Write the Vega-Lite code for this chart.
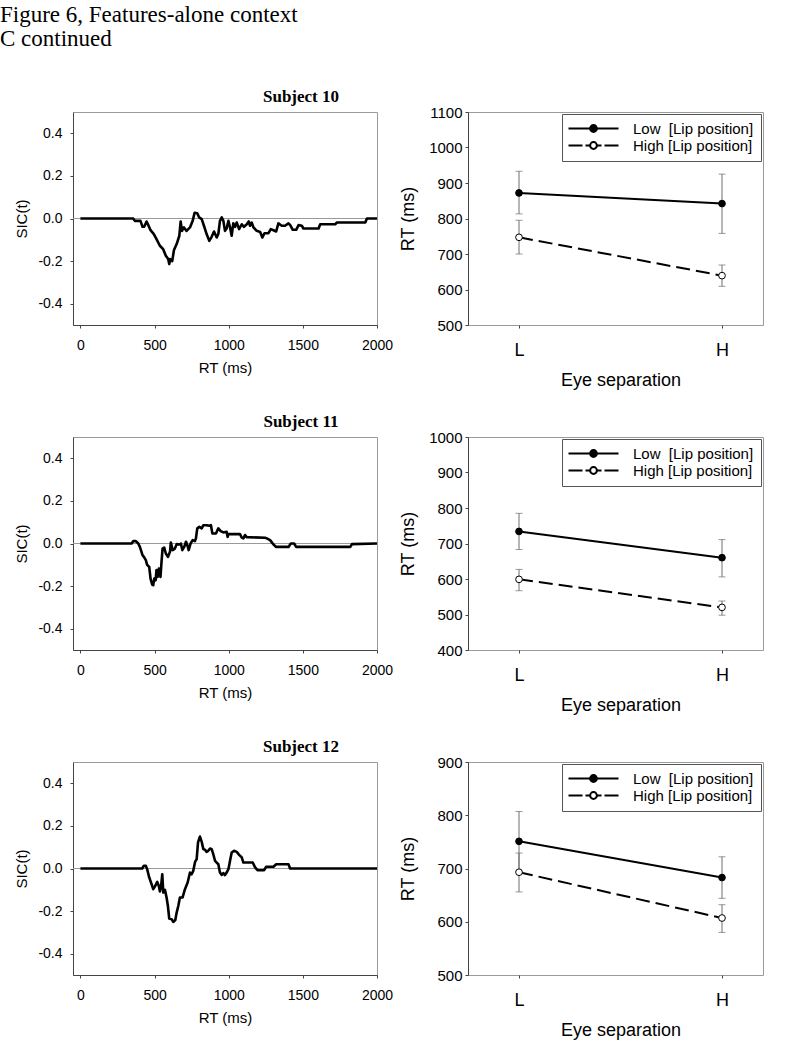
{
  "$schema": "https://vega.github.io/schema/vega-lite/v6.json",
  "padding": {"left": 0, "top": 3, "right": 0, "bottom": 0},
  "title": {"text": ["Figure 6, Features-alone context", "C continued"], "anchor": "start", "frame": "group", "font": "Liberation Serif", "fontSize": 23, "fontWeight": "normal", "lineHeight": 24, "dx": -73, "offset": 37, "color": "black"},
  "datasets": {
    "sic": [
      {"s":10,"t":0,"v":0},{"s":10,"t":356,"v":0},{"s":10,"t":367,"v":-0.011},{"s":10,"t":405,"v":-0.011},{"s":10,"t":419,"v":-0.039},{"s":10,"t":430,"v":-0.039},{"s":10,"t":446,"v":-0.014},{"s":10,"t":457,"v":-0.03},{"s":10,"t":473,"v":-0.055},{"s":10,"t":495,"v":-0.073},{"s":10,"t":513,"v":-0.097},{"s":10,"t":536,"v":-0.128},{"s":10,"t":558,"v":-0.144},{"s":10,"t":576,"v":-0.175},{"s":10,"t":592,"v":-0.19},{"s":10,"t":599,"v":-0.214},{"s":10,"t":605,"v":-0.19},{"s":10,"t":610,"v":-0.198},{"s":10,"t":619,"v":-0.2},{"s":10,"t":631,"v":-0.148},{"s":10,"t":649,"v":-0.12},{"s":10,"t":667,"v":-0.081},{"s":10,"t":676,"v":-0.014},{"s":10,"t":685,"v":-0.058},{"s":10,"t":698,"v":-0.042},{"s":10,"t":716,"v":-0.058},{"s":10,"t":739,"v":-0.042},{"s":10,"t":757,"v":-0.011},{"s":10,"t":770,"v":0.027},{"s":10,"t":788,"v":0.025},{"s":10,"t":801,"v":0.005},{"s":10,"t":818,"v":-0.003},{"s":10,"t":833,"v":-0.034},{"s":10,"t":851,"v":-0.073},{"s":10,"t":869,"v":-0.105},{"s":10,"t":885,"v":-0.086},{"s":10,"t":901,"v":-0.061},{"s":10,"t":919,"v":-0.089},{"s":10,"t":930,"v":-0.073},{"s":10,"t":941,"v":-0.011},{"s":10,"t":953,"v":0.005},{"s":10,"t":964,"v":-0.011},{"s":10,"t":975,"v":-0.058},{"s":10,"t":986,"v":-0.047},{"s":10,"t":998,"v":-0.011},{"s":10,"t":1009,"v":-0.042},{"s":10,"t":1020,"v":-0.081},{"s":10,"t":1031,"v":-0.023},{"s":10,"t":1043,"v":-0.039},{"s":10,"t":1054,"v":-0.019},{"s":10,"t":1070,"v":-0.05},{"s":10,"t":1088,"v":-0.027},{"s":10,"t":1103,"v":-0.039},{"s":10,"t":1122,"v":-0.027},{"s":10,"t":1135,"v":-0.014},{"s":10,"t":1144,"v":-0.034},{"s":10,"t":1155,"v":-0.019},{"s":10,"t":1167,"v":-0.042},{"s":10,"t":1189,"v":-0.058},{"s":10,"t":1212,"v":-0.063},{"s":10,"t":1227,"v":-0.089},{"s":10,"t":1241,"v":-0.069},{"s":10,"t":1268,"v":-0.069},{"s":10,"t":1284,"v":-0.05},{"s":10,"t":1302,"v":-0.055},{"s":10,"t":1320,"v":-0.061},{"s":10,"t":1335,"v":-0.023},{"s":10,"t":1358,"v":-0.034},{"s":10,"t":1380,"v":-0.034},{"s":10,"t":1403,"v":-0.023},{"s":10,"t":1414,"v":-0.03},{"s":10,"t":1432,"v":-0.053},{"s":10,"t":1455,"v":-0.053},{"s":10,"t":1471,"v":-0.031},{"s":10,"t":1493,"v":-0.034},{"s":10,"t":1504,"v":-0.047},{"s":10,"t":1606,"v":-0.047},{"s":10,"t":1617,"v":-0.027},{"s":10,"t":1718,"v":-0.027},{"s":10,"t":1730,"v":-0.019},{"s":10,"t":1921,"v":-0.019},{"s":10,"t":1932,"v":0},{"s":10,"t":2000,"v":0},
      {"s":11,"t":0,"v":0},{"s":11,"t":345,"v":0},{"s":11,"t":356,"v":0.011},{"s":11,"t":374,"v":0.011},{"s":11,"t":390,"v":0},{"s":11,"t":401,"v":-0.016},{"s":11,"t":419,"v":-0.055},{"s":11,"t":428,"v":-0.063},{"s":11,"t":441,"v":-0.078},{"s":11,"t":450,"v":-0.1},{"s":11,"t":464,"v":-0.11},{"s":11,"t":473,"v":-0.165},{"s":11,"t":484,"v":-0.193},{"s":11,"t":491,"v":-0.196},{"s":11,"t":498,"v":-0.165},{"s":11,"t":507,"v":-0.173},{"s":11,"t":513,"v":-0.125},{"s":11,"t":520,"v":-0.157},{"s":11,"t":529,"v":-0.118},{"s":11,"t":540,"v":-0.157},{"s":11,"t":547,"v":-0.086},{"s":11,"t":554,"v":-0.024},{"s":11,"t":565,"v":-0.019},{"s":11,"t":576,"v":-0.047},{"s":11,"t":590,"v":-0.063},{"s":11,"t":604,"v":-0.039},{"s":11,"t":610,"v":0.005},{"s":11,"t":622,"v":-0.031},{"s":11,"t":637,"v":-0.024},{"s":11,"t":649,"v":-0.003},{"s":11,"t":667,"v":-0.005},{"s":11,"t":678,"v":0},{"s":11,"t":687,"v":-0.031},{"s":11,"t":700,"v":-0.016},{"s":11,"t":712,"v":0.008},{"s":11,"t":721,"v":-0.008},{"s":11,"t":730,"v":-0.031},{"s":11,"t":743,"v":0},{"s":11,"t":757,"v":0.016},{"s":11,"t":772,"v":0.011},{"s":11,"t":779,"v":0.024},{"s":11,"t":788,"v":0.071},{"s":11,"t":802,"v":0.078},{"s":11,"t":818,"v":0.071},{"s":11,"t":829,"v":0.086},{"s":11,"t":851,"v":0.086},{"s":11,"t":869,"v":0.083},{"s":11,"t":880,"v":0.086},{"s":11,"t":890,"v":0.047},{"s":11,"t":914,"v":0.047},{"s":11,"t":930,"v":0.071},{"s":11,"t":946,"v":0.058},{"s":11,"t":964,"v":0.052},{"s":11,"t":986,"v":0.055},{"s":11,"t":993,"v":0.031},{"s":11,"t":998,"v":0.044},{"s":11,"t":1076,"v":0.044},{"s":11,"t":1088,"v":0.028},{"s":11,"t":1099,"v":0.024},{"s":11,"t":1110,"v":0.04},{"s":11,"t":1121,"v":0.03},{"s":11,"t":1245,"v":0.027},{"s":11,"t":1257,"v":0.024},{"s":11,"t":1279,"v":0.016},{"s":11,"t":1302,"v":-0.005},{"s":11,"t":1320,"v":-0.016},{"s":11,"t":1403,"v":-0.016},{"s":11,"t":1419,"v":0},{"s":11,"t":1441,"v":0},{"s":11,"t":1455,"v":-0.016},{"s":11,"t":1820,"v":-0.016},{"s":11,"t":1831,"v":-0.003},{"s":11,"t":2000,"v":0},
      {"s":12,"t":0,"v":0},{"s":12,"t":417,"v":0},{"s":12,"t":428,"v":0.013},{"s":12,"t":441,"v":0.013},{"s":12,"t":450,"v":-0.003},{"s":12,"t":464,"v":-0.042},{"s":12,"t":480,"v":-0.074},{"s":12,"t":491,"v":-0.097},{"s":12,"t":502,"v":-0.085},{"s":12,"t":518,"v":-0.063},{"s":12,"t":529,"v":-0.082},{"s":12,"t":536,"v":-0.108},{"s":12,"t":543,"v":-0.09},{"s":12,"t":552,"v":-0.027},{"s":12,"t":559,"v":-0.113},{"s":12,"t":570,"v":-0.1},{"s":12,"t":581,"v":-0.136},{"s":12,"t":590,"v":-0.176},{"s":12,"t":599,"v":-0.235},{"s":12,"t":615,"v":-0.238},{"s":12,"t":626,"v":-0.251},{"s":12,"t":640,"v":-0.242},{"s":12,"t":649,"v":-0.207},{"s":12,"t":660,"v":-0.176},{"s":12,"t":671,"v":-0.136},{"s":12,"t":689,"v":-0.136},{"s":12,"t":705,"v":-0.097},{"s":12,"t":723,"v":-0.066},{"s":12,"t":739,"v":-0.019},{"s":12,"t":750,"v":-0.027},{"s":12,"t":761,"v":-0.011},{"s":12,"t":773,"v":0.031},{"s":12,"t":784,"v":0.044},{"s":12,"t":793,"v":0.122},{"s":12,"t":806,"v":0.15},{"s":12,"t":818,"v":0.125},{"s":12,"t":829,"v":0.091},{"s":12,"t":840,"v":0.088},{"s":12,"t":851,"v":0.078},{"s":12,"t":862,"v":0.083},{"s":12,"t":874,"v":0.094},{"s":12,"t":885,"v":0.091},{"s":12,"t":896,"v":0.067},{"s":12,"t":908,"v":0.036},{"s":12,"t":919,"v":0.028},{"s":12,"t":930,"v":0.02},{"s":12,"t":941,"v":-0.019},{"s":12,"t":953,"v":-0.03},{"s":12,"t":964,"v":-0.022},{"s":12,"t":975,"v":-0.031},{"s":12,"t":986,"v":-0.019},{"s":12,"t":998,"v":-0.003},{"s":12,"t":1009,"v":0.036},{"s":12,"t":1020,"v":0.075},{"s":12,"t":1036,"v":0.083},{"s":12,"t":1054,"v":0.078},{"s":12,"t":1072,"v":0.063},{"s":12,"t":1088,"v":0.052},{"s":12,"t":1099,"v":0.028},{"s":12,"t":1162,"v":0.028},{"s":12,"t":1178,"v":0.005},{"s":12,"t":1194,"v":-0.008},{"s":12,"t":1239,"v":-0.008},{"s":12,"t":1252,"v":0.008},{"s":12,"t":1302,"v":0.008},{"s":12,"t":1320,"v":0.02},{"s":12,"t":1403,"v":0.02},{"s":12,"t":1414,"v":0},{"s":12,"t":2000,"v":0}
    ],
    "rt": [
      {"s":10,"eye":"L","lip":"Low","rt":872,"lo":813,"hi":933},
      {"s":10,"eye":"H","lip":"Low","rt":842,"lo":758,"hi":925},
      {"s":10,"eye":"L","lip":"High","rt":747,"lo":700,"hi":795},
      {"s":10,"eye":"H","lip":"High","rt":639,"lo":609,"hi":669},
      {"s":11,"eye":"L","lip":"Low","rt":734,"lo":683,"hi":785},
      {"s":11,"eye":"H","lip":"Low","rt":660,"lo":606,"hi":711},
      {"s":11,"eye":"L","lip":"High","rt":599,"lo":567,"hi":627},
      {"s":11,"eye":"H","lip":"High","rt":520,"lo":498,"hi":538},
      {"s":12,"eye":"L","lip":"Low","rt":751,"lo":695,"hi":807},
      {"s":12,"eye":"H","lip":"Low","rt":683,"lo":644,"hi":722},
      {"s":12,"eye":"L","lip":"High","rt":693,"lo":656,"hi":729},
      {"s":12,"eye":"H","lip":"High","rt":607,"lo":580,"hi":632}
    ]
  },
  "columns": 2,
  "bounds": "flush",
  "spacing": {"row": 112, "column": 91},
  "resolve": {"scale": {"x": "independent", "y": "independent", "fill": "independent", "shape": "independent"}, "legend": {"fill": "independent", "shape": "independent"}, "axis": {"x": "independent", "y": "independent"}},
  "concat": [
    {
      "width": 304, "height": 213,
      "title": {"text": "Subject 10", "font": "Liberation Serif", "fontSize": 17, "fontWeight": "bold", "anchor": "middle", "dx": 76, "offset": -7, "baseline": "alphabetic", "color": "black"},
      "data": {"name": "sic"},
      "transform": [{"filter": "datum.s == 10"}],
      "layer": [
        {"mark": {"type": "rule", "color": "#9a9a9a", "strokeWidth": 1},
         "encoding": {"y": {"datum": 0, "type": "quantitative", "scale": {"domain": [-0.5, 0.5], "nice": false}, "axis": {"title": "SIC(t)", "values": [-0.4, -0.2, 0, 0.2, 0.4], "labelExpr": "(datum.value < 0 ? '-' : '') + format(abs(datum.value), '.1f')", "labelFontSize": 14, "titleFontSize": 15, "tickSize": 3, "labelPadding": 8, "minExtent": 35, "maxExtent": 35, "titlePadding": 9}}}},
        {"mark": {"type": "line", "color": "black", "strokeWidth": 2.6, "strokeJoin": "round"},
         "encoding": {
           "x": {"field": "t", "type": "quantitative", "scale": {"domain": [-50, 2000], "nice": false, "zero": false}, "axis": {"title": "RT (ms)", "values": [0, 500, 1000, 1500, 2000], "format": "d", "labelFontSize": 14, "titleFontSize": 15, "tickSize": 3, "labelPadding": 10, "titlePadding": 8, "labelFlush": false, "labelOverlap": false}},
           "y": {"field": "v", "type": "quantitative", "scale": {"domain": [-0.5, 0.5], "nice": false}, "axis": {"title": "SIC(t)", "values": [-0.4, -0.2, 0, 0.2, 0.4], "labelExpr": "(datum.value < 0 ? '-' : '') + format(abs(datum.value), '.1f')", "labelFontSize": 14, "titleFontSize": 15, "tickSize": 3, "labelPadding": 8, "minExtent": 35, "maxExtent": 35, "titlePadding": 9}}}}
      ]
    },
    {
      "width": 295, "height": 213,
      "data": {"name": "rt"},
      "transform": [{"filter": "datum.s == 10"}],
      "encoding": {"x": {"field": "eye", "type": "ordinal", "scale": {"type": "point", "domain": ["L", "H"], "range": [51, 254], "padding": 0}, "axis": {"title": "Eye separation", "labelAngle": 0, "labelFontSize": 18, "titleFontSize": 18, "tickSize": 3, "labelPadding": 13, "titlePadding": 12, "domain": false}}},
      "layer": [
        {"mark": {"type": "errorbar", "ticks": {"size": 7}, "color": "#6e6e6e", "thickness": 1},
         "encoding": {"y": {"field": "lo", "type": "quantitative", "scale": {"domain": [500, 1100], "nice": false, "zero": false}, "axis": {"title": "RT (ms)", "format": "d", "values": [500, 600, 700, 800, 900, 1000, 1100], "labelOverlap": false, "labelFontSize": 15, "titleFontSize": 18, "tickSize": 3, "labelPadding": 3, "minExtent": 40, "maxExtent": 40, "titlePadding": 11}}, "y2": {"field": "hi"}}},
        {"transform": [{"filter": "datum.lip == 'Low'"}], "mark": {"type": "line", "color": "black", "strokeWidth": 2},
         "encoding": {"y": {"field": "rt", "type": "quantitative", "axis": {"title": "RT (ms)", "format": "d", "values": [500, 600, 700, 800, 900, 1000, 1100], "labelOverlap": false, "labelFontSize": 15, "titleFontSize": 18, "tickSize": 3, "labelPadding": 3, "minExtent": 40, "maxExtent": 40, "titlePadding": 11}}}},
        {"transform": [{"filter": "datum.lip == 'High'"}], "mark": {"type": "line", "color": "black", "strokeWidth": 2, "strokeDash": [14, 6]},
         "encoding": {"y": {"field": "rt", "type": "quantitative", "axis": {"title": "RT (ms)", "format": "d", "values": [500, 600, 700, 800, 900, 1000, 1100], "labelOverlap": false, "labelFontSize": 15, "titleFontSize": 18, "tickSize": 3, "labelPadding": 3, "minExtent": 40, "maxExtent": 40, "titlePadding": 11}}}},
        {"mark": {"type": "point", "filled": true, "stroke": "black", "strokeWidth": 1, "size": 45, "opacity": 1},
         "encoding": {"y": {"field": "rt", "type": "quantitative", "axis": {"title": "RT (ms)", "format": "d", "values": [500, 600, 700, 800, 900, 1000, 1100], "labelOverlap": false, "labelFontSize": 15, "titleFontSize": 18, "tickSize": 3, "labelPadding": 3, "minExtent": 40, "maxExtent": 40, "titlePadding": 11}},
           "fill": {"field": "lip", "type": "nominal", "title": null, "scale": {"domain": ["Low", "High"], "range": ["black", "white"]}, "legend": {"orient": "top-right", "offset": 2, "padding": 7, "fillColor": "white", "strokeColor": "#555", "labelFont": "Liberation Sans", "labelFontSize": 15, "labelColor": "black", "symbolSize": 144, "symbolStrokeColor": "black", "symbolStrokeWidth": 2, "symbolOffset": 17, "labelOffset": 32, "rowPadding": 1, "labelExpr": "datum.value == 'Low' ? 'Low\u00a0 [Lip position]' : 'High [Lip position]'"}}}},
        {"transform": [{"filter": "false"}], "mark": {"type": "point", "filled": true, "stroke": "black", "strokeWidth": 2},
         "encoding": {"y": {"field": "rt", "type": "quantitative", "axis": {"title": "RT (ms)", "format": "d", "values": [500, 600, 700, 800, 900, 1000, 1100], "labelOverlap": false, "labelFontSize": 15, "titleFontSize": 18, "tickSize": 3, "labelPadding": 3, "minExtent": 40, "maxExtent": 40, "titlePadding": 11}},
           "fill": {"field": "lip", "type": "nominal", "title": null, "scale": {"domain": ["Low", "High"], "range": ["black", "white"]}, "legend": {"orient": "top-right", "offset": 2, "padding": 7, "fillColor": "white", "strokeColor": "#555", "labelFont": "Liberation Sans", "labelFontSize": 15, "labelColor": "black", "symbolSize": 144, "symbolStrokeColor": "black", "symbolStrokeWidth": 2, "symbolOffset": 17, "labelOffset": 32, "rowPadding": 1, "labelExpr": "datum.value == 'Low' ? 'Low\u00a0 [Lip position]' : 'High [Lip position]'"}},
           "shape": {"field": "lip", "type": "nominal", "title": null, "scale": {"domain": ["Low", "High"], "range": ["M-4.1667,0H-0.5667M0.5667,0H4.1667M-0.5667,0A0.5667,0.5667,0,1,1,0.5667,0A0.5667,0.5667,0,1,1,-0.5667,0Z", "M-4.1667,0H-1.8333M-1.3333,0H-0.5667M0.5667,0H1.3333M1.8333,0H4.1667M-0.5667,0A0.5667,0.5667,0,1,1,0.5667,0A0.5667,0.5667,0,1,1,-0.5667,0Z"]}, "legend": {"orient": "top-right", "offset": 2, "padding": 7, "fillColor": "white", "strokeColor": "#555", "labelFont": "Liberation Sans", "labelFontSize": 15, "labelColor": "black", "symbolSize": 144, "symbolStrokeColor": "black", "symbolStrokeWidth": 2, "symbolOffset": 17, "labelOffset": 32, "rowPadding": 1, "labelExpr": "datum.value == 'Low' ? 'Low\u00a0 [Lip position]' : 'High [Lip position]'"}}}}
      ]
    },
    {
      "width": 304, "height": 213,
      "title": {"text": "Subject 11", "font": "Liberation Serif", "fontSize": 17, "fontWeight": "bold", "anchor": "middle", "dx": 76, "offset": -7, "baseline": "alphabetic", "color": "black"},
      "data": {"name": "sic"},
      "transform": [{"filter": "datum.s == 11"}],
      "layer": [
        {"mark": {"type": "rule", "color": "#9a9a9a", "strokeWidth": 1},
         "encoding": {"y": {"datum": 0, "type": "quantitative", "scale": {"domain": [-0.5, 0.5], "nice": false}, "axis": {"title": "SIC(t)", "values": [-0.4, -0.2, 0, 0.2, 0.4], "labelExpr": "(datum.value < 0 ? '-' : '') + format(abs(datum.value), '.1f')", "labelFontSize": 14, "titleFontSize": 15, "tickSize": 3, "labelPadding": 8, "minExtent": 35, "maxExtent": 35, "titlePadding": 9}}}},
        {"mark": {"type": "line", "color": "black", "strokeWidth": 2.6, "strokeJoin": "round"},
         "encoding": {
           "x": {"field": "t", "type": "quantitative", "scale": {"domain": [-50, 2000], "nice": false, "zero": false}, "axis": {"title": "RT (ms)", "values": [0, 500, 1000, 1500, 2000], "format": "d", "labelFontSize": 14, "titleFontSize": 15, "tickSize": 3, "labelPadding": 10, "titlePadding": 8, "labelFlush": false, "labelOverlap": false}},
           "y": {"field": "v", "type": "quantitative", "scale": {"domain": [-0.5, 0.5], "nice": false}, "axis": {"title": "SIC(t)", "values": [-0.4, -0.2, 0, 0.2, 0.4], "labelExpr": "(datum.value < 0 ? '-' : '') + format(abs(datum.value), '.1f')", "labelFontSize": 14, "titleFontSize": 15, "tickSize": 3, "labelPadding": 8, "minExtent": 35, "maxExtent": 35, "titlePadding": 9}}}}
      ]
    },
    {
      "width": 295, "height": 213,
      "data": {"name": "rt"},
      "transform": [{"filter": "datum.s == 11"}],
      "encoding": {"x": {"field": "eye", "type": "ordinal", "scale": {"type": "point", "domain": ["L", "H"], "range": [51, 254], "padding": 0}, "axis": {"title": "Eye separation", "labelAngle": 0, "labelFontSize": 18, "titleFontSize": 18, "tickSize": 3, "labelPadding": 13, "titlePadding": 12, "domain": false}}},
      "layer": [
        {"mark": {"type": "errorbar", "ticks": {"size": 7}, "color": "#6e6e6e", "thickness": 1},
         "encoding": {"y": {"field": "lo", "type": "quantitative", "scale": {"domain": [400, 1000], "nice": false, "zero": false}, "axis": {"title": "RT (ms)", "format": "d", "values": [400, 500, 600, 700, 800, 900, 1000], "labelOverlap": false, "labelFontSize": 15, "titleFontSize": 18, "tickSize": 3, "labelPadding": 3, "minExtent": 40, "maxExtent": 40, "titlePadding": 11}}, "y2": {"field": "hi"}}},
        {"transform": [{"filter": "datum.lip == 'Low'"}], "mark": {"type": "line", "color": "black", "strokeWidth": 2},
         "encoding": {"y": {"field": "rt", "type": "quantitative", "axis": {"title": "RT (ms)", "format": "d", "values": [400, 500, 600, 700, 800, 900, 1000], "labelOverlap": false, "labelFontSize": 15, "titleFontSize": 18, "tickSize": 3, "labelPadding": 3, "minExtent": 40, "maxExtent": 40, "titlePadding": 11}}}},
        {"transform": [{"filter": "datum.lip == 'High'"}], "mark": {"type": "line", "color": "black", "strokeWidth": 2, "strokeDash": [14, 6]},
         "encoding": {"y": {"field": "rt", "type": "quantitative", "axis": {"title": "RT (ms)", "format": "d", "values": [400, 500, 600, 700, 800, 900, 1000], "labelOverlap": false, "labelFontSize": 15, "titleFontSize": 18, "tickSize": 3, "labelPadding": 3, "minExtent": 40, "maxExtent": 40, "titlePadding": 11}}}},
        {"mark": {"type": "point", "filled": true, "stroke": "black", "strokeWidth": 1, "size": 45, "opacity": 1},
         "encoding": {"y": {"field": "rt", "type": "quantitative", "axis": {"title": "RT (ms)", "format": "d", "values": [400, 500, 600, 700, 800, 900, 1000], "labelOverlap": false, "labelFontSize": 15, "titleFontSize": 18, "tickSize": 3, "labelPadding": 3, "minExtent": 40, "maxExtent": 40, "titlePadding": 11}},
           "fill": {"field": "lip", "type": "nominal", "title": null, "scale": {"domain": ["Low", "High"], "range": ["black", "white"]}, "legend": {"orient": "top-right", "offset": 2, "padding": 7, "fillColor": "white", "strokeColor": "#555", "labelFont": "Liberation Sans", "labelFontSize": 15, "labelColor": "black", "symbolSize": 144, "symbolStrokeColor": "black", "symbolStrokeWidth": 2, "symbolOffset": 17, "labelOffset": 32, "rowPadding": 1, "labelExpr": "datum.value == 'Low' ? 'Low\u00a0 [Lip position]' : 'High [Lip position]'"}}}},
        {"transform": [{"filter": "false"}], "mark": {"type": "point", "filled": true, "stroke": "black", "strokeWidth": 2},
         "encoding": {"y": {"field": "rt", "type": "quantitative", "axis": {"title": "RT (ms)", "format": "d", "values": [400, 500, 600, 700, 800, 900, 1000], "labelOverlap": false, "labelFontSize": 15, "titleFontSize": 18, "tickSize": 3, "labelPadding": 3, "minExtent": 40, "maxExtent": 40, "titlePadding": 11}},
           "fill": {"field": "lip", "type": "nominal", "title": null, "scale": {"domain": ["Low", "High"], "range": ["black", "white"]}, "legend": {"orient": "top-right", "offset": 2, "padding": 7, "fillColor": "white", "strokeColor": "#555", "labelFont": "Liberation Sans", "labelFontSize": 15, "labelColor": "black", "symbolSize": 144, "symbolStrokeColor": "black", "symbolStrokeWidth": 2, "symbolOffset": 17, "labelOffset": 32, "rowPadding": 1, "labelExpr": "datum.value == 'Low' ? 'Low\u00a0 [Lip position]' : 'High [Lip position]'"}},
           "shape": {"field": "lip", "type": "nominal", "title": null, "scale": {"domain": ["Low", "High"], "range": ["M-4.1667,0H-0.5667M0.5667,0H4.1667M-0.5667,0A0.5667,0.5667,0,1,1,0.5667,0A0.5667,0.5667,0,1,1,-0.5667,0Z", "M-4.1667,0H-1.8333M-1.3333,0H-0.5667M0.5667,0H1.3333M1.8333,0H4.1667M-0.5667,0A0.5667,0.5667,0,1,1,0.5667,0A0.5667,0.5667,0,1,1,-0.5667,0Z"]}, "legend": {"orient": "top-right", "offset": 2, "padding": 7, "fillColor": "white", "strokeColor": "#555", "labelFont": "Liberation Sans", "labelFontSize": 15, "labelColor": "black", "symbolSize": 144, "symbolStrokeColor": "black", "symbolStrokeWidth": 2, "symbolOffset": 17, "labelOffset": 32, "rowPadding": 1, "labelExpr": "datum.value == 'Low' ? 'Low\u00a0 [Lip position]' : 'High [Lip position]'"}}}}
      ]
    },
    {
      "width": 304, "height": 213,
      "title": {"text": "Subject 12", "font": "Liberation Serif", "fontSize": 17, "fontWeight": "bold", "anchor": "middle", "dx": 76, "offset": -7, "baseline": "alphabetic", "color": "black"},
      "data": {"name": "sic"},
      "transform": [{"filter": "datum.s == 12"}],
      "layer": [
        {"mark": {"type": "rule", "color": "#9a9a9a", "strokeWidth": 1},
         "encoding": {"y": {"datum": 0, "type": "quantitative", "scale": {"domain": [-0.5, 0.5], "nice": false}, "axis": {"title": "SIC(t)", "values": [-0.4, -0.2, 0, 0.2, 0.4], "labelExpr": "(datum.value < 0 ? '-' : '') + format(abs(datum.value), '.1f')", "labelFontSize": 14, "titleFontSize": 15, "tickSize": 3, "labelPadding": 8, "minExtent": 35, "maxExtent": 35, "titlePadding": 9}}}},
        {"mark": {"type": "line", "color": "black", "strokeWidth": 2.6, "strokeJoin": "round"},
         "encoding": {
           "x": {"field": "t", "type": "quantitative", "scale": {"domain": [-50, 2000], "nice": false, "zero": false}, "axis": {"title": "RT (ms)", "values": [0, 500, 1000, 1500, 2000], "format": "d", "labelFontSize": 14, "titleFontSize": 15, "tickSize": 3, "labelPadding": 10, "titlePadding": 8, "labelFlush": false, "labelOverlap": false}},
           "y": {"field": "v", "type": "quantitative", "scale": {"domain": [-0.5, 0.5], "nice": false}, "axis": {"title": "SIC(t)", "values": [-0.4, -0.2, 0, 0.2, 0.4], "labelExpr": "(datum.value < 0 ? '-' : '') + format(abs(datum.value), '.1f')", "labelFontSize": 14, "titleFontSize": 15, "tickSize": 3, "labelPadding": 8, "minExtent": 35, "maxExtent": 35, "titlePadding": 9}}}}
      ]
    },
    {
      "width": 295, "height": 213,
      "data": {"name": "rt"},
      "transform": [{"filter": "datum.s == 12"}],
      "encoding": {"x": {"field": "eye", "type": "ordinal", "scale": {"type": "point", "domain": ["L", "H"], "range": [51, 254], "padding": 0}, "axis": {"title": "Eye separation", "labelAngle": 0, "labelFontSize": 18, "titleFontSize": 18, "tickSize": 3, "labelPadding": 13, "titlePadding": 12, "domain": false}}},
      "layer": [
        {"mark": {"type": "errorbar", "ticks": {"size": 7}, "color": "#6e6e6e", "thickness": 1},
         "encoding": {"y": {"field": "lo", "type": "quantitative", "scale": {"domain": [500, 900], "nice": false, "zero": false}, "axis": {"title": "RT (ms)", "format": "d", "values": [500, 600, 700, 800, 900], "labelOverlap": false, "labelFontSize": 15, "titleFontSize": 18, "tickSize": 3, "labelPadding": 3, "minExtent": 40, "maxExtent": 40, "titlePadding": 11}}, "y2": {"field": "hi"}}},
        {"transform": [{"filter": "datum.lip == 'Low'"}], "mark": {"type": "line", "color": "black", "strokeWidth": 2},
         "encoding": {"y": {"field": "rt", "type": "quantitative", "axis": {"title": "RT (ms)", "format": "d", "values": [500, 600, 700, 800, 900], "labelOverlap": false, "labelFontSize": 15, "titleFontSize": 18, "tickSize": 3, "labelPadding": 3, "minExtent": 40, "maxExtent": 40, "titlePadding": 11}}}},
        {"transform": [{"filter": "datum.lip == 'High'"}], "mark": {"type": "line", "color": "black", "strokeWidth": 2, "strokeDash": [14, 6]},
         "encoding": {"y": {"field": "rt", "type": "quantitative", "axis": {"title": "RT (ms)", "format": "d", "values": [500, 600, 700, 800, 900], "labelOverlap": false, "labelFontSize": 15, "titleFontSize": 18, "tickSize": 3, "labelPadding": 3, "minExtent": 40, "maxExtent": 40, "titlePadding": 11}}}},
        {"mark": {"type": "point", "filled": true, "stroke": "black", "strokeWidth": 1, "size": 45, "opacity": 1},
         "encoding": {"y": {"field": "rt", "type": "quantitative", "axis": {"title": "RT (ms)", "format": "d", "values": [500, 600, 700, 800, 900], "labelOverlap": false, "labelFontSize": 15, "titleFontSize": 18, "tickSize": 3, "labelPadding": 3, "minExtent": 40, "maxExtent": 40, "titlePadding": 11}},
           "fill": {"field": "lip", "type": "nominal", "title": null, "scale": {"domain": ["Low", "High"], "range": ["black", "white"]}, "legend": {"orient": "top-right", "offset": 2, "padding": 7, "fillColor": "white", "strokeColor": "#555", "labelFont": "Liberation Sans", "labelFontSize": 15, "labelColor": "black", "symbolSize": 144, "symbolStrokeColor": "black", "symbolStrokeWidth": 2, "symbolOffset": 17, "labelOffset": 32, "rowPadding": 1, "labelExpr": "datum.value == 'Low' ? 'Low\u00a0 [Lip position]' : 'High [Lip position]'"}}}},
        {"transform": [{"filter": "false"}], "mark": {"type": "point", "filled": true, "stroke": "black", "strokeWidth": 2},
         "encoding": {"y": {"field": "rt", "type": "quantitative", "axis": {"title": "RT (ms)", "format": "d", "values": [500, 600, 700, 800, 900], "labelOverlap": false, "labelFontSize": 15, "titleFontSize": 18, "tickSize": 3, "labelPadding": 3, "minExtent": 40, "maxExtent": 40, "titlePadding": 11}},
           "fill": {"field": "lip", "type": "nominal", "title": null, "scale": {"domain": ["Low", "High"], "range": ["black", "white"]}, "legend": {"orient": "top-right", "offset": 2, "padding": 7, "fillColor": "white", "strokeColor": "#555", "labelFont": "Liberation Sans", "labelFontSize": 15, "labelColor": "black", "symbolSize": 144, "symbolStrokeColor": "black", "symbolStrokeWidth": 2, "symbolOffset": 17, "labelOffset": 32, "rowPadding": 1, "labelExpr": "datum.value == 'Low' ? 'Low\u00a0 [Lip position]' : 'High [Lip position]'"}},
           "shape": {"field": "lip", "type": "nominal", "title": null, "scale": {"domain": ["Low", "High"], "range": ["M-4.1667,0H-0.5667M0.5667,0H4.1667M-0.5667,0A0.5667,0.5667,0,1,1,0.5667,0A0.5667,0.5667,0,1,1,-0.5667,0Z", "M-4.1667,0H-1.8333M-1.3333,0H-0.5667M0.5667,0H1.3333M1.8333,0H4.1667M-0.5667,0A0.5667,0.5667,0,1,1,0.5667,0A0.5667,0.5667,0,1,1,-0.5667,0Z"]}, "legend": {"orient": "top-right", "offset": 2, "padding": 7, "fillColor": "white", "strokeColor": "#555", "labelFont": "Liberation Sans", "labelFontSize": 15, "labelColor": "black", "symbolSize": 144, "symbolStrokeColor": "black", "symbolStrokeWidth": 2, "symbolOffset": 17, "labelOffset": 32, "rowPadding": 1, "labelExpr": "datum.value == 'Low' ? 'Low\u00a0 [Lip position]' : 'High [Lip position]'"}}}}
      ]
    }
  ],
  "config": {
    "font": "Liberation Sans",
    "background": "white",
    "view": {"stroke": "#9a9a9a", "strokeWidth": 1},
    "axis": {"grid": false, "domainColor": "#444444", "tickColor": "#444444", "labelColor": "black", "titleColor": "black", "titleFontWeight": "normal", "labelFont": "Liberation Sans", "titleFont": "Liberation Sans"}
  }
}
